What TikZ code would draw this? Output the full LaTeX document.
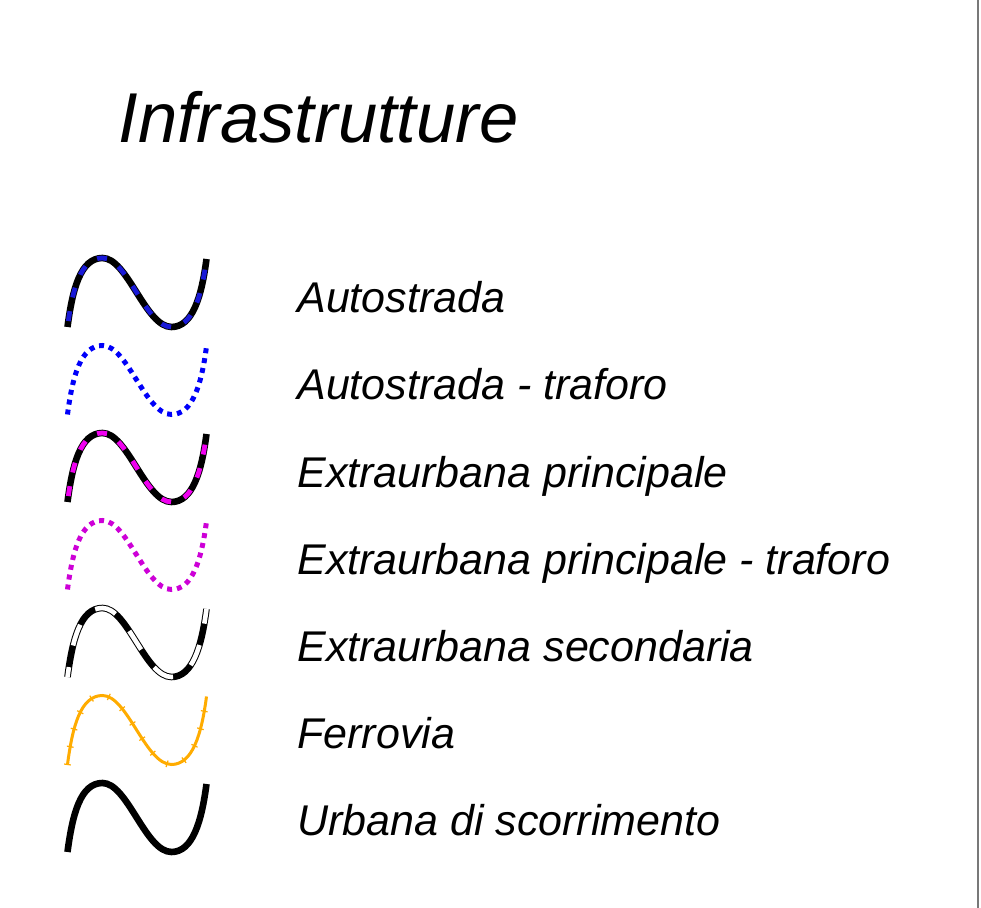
\documentclass[tikz,border=0pt]{standalone}
\usepackage{fontspec}
\setmainfont{Liberation Sans}
\usetikzlibrary{decorations.markings}
\definecolor{autoblue}{RGB}{25,25,215}
\definecolor{autodot}{RGB}{0,0,250}
\definecolor{extramag}{RGB}{240,0,240}
\definecolor{extradot}{RGB}{205,0,215}
\definecolor{ferroorange}{RGB}{255,172,0}
\definecolor{frameline}{RGB}{120,120,120}
\tikzset{legtext/.style={anchor=base west,inner sep=0pt,font=\fontsize{21.5}{26}\selectfont\itshape}}
\tikzset{roadbase/.style={line width=3.3pt,black}}
\tikzset{roadstripe/.style={line width=2.4pt,dash pattern=on 5pt off 7pt,dash phase=9pt}}
\tikzset{tunnel/.style={line width=2.5pt,dash pattern=on 2.5pt off 2.5pt}}
\tikzset{railway/.style={line width=1.5pt,ferroorange,postaction={decorate},
    decoration={markings,mark=between positions 0 and 1 step 9pt with
      {\draw[ferroorange,line width=0.6pt] (0pt,-1.7pt) -- (0pt,1.7pt);}}}}
\newcommand{\legwave}{(0,0) .. controls (5,-38) and (13,-69) .. (35,-69)
  .. controls (60,-69) and (78,0) .. (104,0)
  .. controls (125,0) and (134,-30) .. (139,-68)}

\begin{document}
\begin{tikzpicture}[x=0.5pt,y=-0.5pt]
    \useasboundingbox (0,0) rectangle (981,908);
    \fill[white] (0,0) rectangle (981,908);
    \draw[frameline,line width=1pt] (978,0) -- (978,908);

    \node[anchor=base west,inner sep=0pt,font=\fontsize{35.3}{42}\selectfont\itshape] (title) at (118,143) {Infrastrutture};

    % autostrada
    \draw[roadbase,shift={(67.5,327)}] \legwave;
    \draw[roadstripe,autoblue,shift={(67.5,327)}] \legwave;
    % autostrada - traforo
    \draw[tunnel,autodot,shift={(67.5,414.5)}] \legwave;
    % extraurbana principale
    \draw[roadbase,shift={(67.5,502)}] \legwave;
    \draw[roadstripe,extramag,shift={(67.5,502)}] \legwave;
    % extraurbana principale - traforo
    \draw[tunnel,extradot,shift={(67.5,589.5)}] \legwave;
    % extraurbana secondaria
    \draw[roadbase,shift={(67.5,677)}] \legwave;
    \draw[line width=2.3pt,white,dash pattern=on 11pt off 11pt,dash phase=6pt,shift={(67.5,677)}] \legwave;
    % ferrovia
    \draw[railway,shift={(67.5,764.5)}] \legwave;
    % urbana di scorrimento
    \draw[roadbase,shift={(67.5,852)}] \legwave;

    \node[legtext] (autostrada) at (297,313) {Autostrada};
    \node[legtext] (autotraforo) at (297,400) {Autostrada - traforo};
    \node[legtext] (extraprinc) at (297,487.5) {Extraurbana principale};
    \node[legtext] (extratraforo) at (297,574.5) {Extraurbana principale - traforo};
    \node[legtext] (extrasec) at (297,662) {Extraurbana secondaria};
    \node[legtext] (ferrovia) at (297,749) {Ferrovia};
    \node[legtext] (urbana) at (297,836) {Urbana di scorrimento};
\end{tikzpicture}
\end{document}
